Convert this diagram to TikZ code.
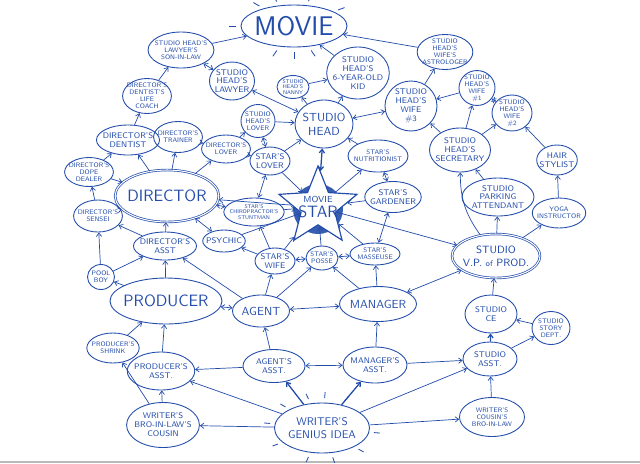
\documentclass[tikz,border=0pt]{standalone}
\usetikzlibrary{shapes.geometric,arrows.meta}
\definecolor{ink}{RGB}{34,76,170}
\tikzset{
  blob/.style={ellipse, draw=ink, line width=.75pt, text=ink, align=center,
    inner xsep=-2.5pt, inner ysep=-1pt, font=\sffamily\fontsize{5.6}{6}\selectfont},
  sz/.style 2 args={minimum width=#1*0.03cm, minimum height=#2*0.03cm},
  sml/.style={font=\sffamily\fontsize{7}{7.6}\selectfont},
  mid/.style={font=\sffamily\fontsize{10}{12}\selectfont},
  big/.style={font=\sffamily\fontsize{14}{15}\selectfont},
  twice/.style={double=white, double distance=.9pt, line width=.6pt},
  arr/.style={->, draw=ink, line width=.6pt},
  dbl/.style={<->, draw=ink, line width=.6pt},
  ray/.style={draw=ink, line width=.7pt}
}

\begin{document}
\begin{tikzpicture}[x=0.03cm, y=-0.03cm, >={Straight Barb[length=3pt,width=4.5pt]}]
\useasboundingbox (0,0) rectangle (640,463);
\fill[gray!55] (0,461) rectangle (640,463);

% top: the studio side
\node[blob, sz={106}{42}, font=\sffamily\fontsize{23}{25}\selectfont] (movie) at (294,26) {MOVIE};
\node[blob, sz={52}{36}] (sonInLaw) at (181,50) {STUDIO HEAD'S\\LAWYER'S\\SON-IN-LAW};
\node[blob, sml, sz={45}{38}] (shLawyer) at (232,81) {STUDIO\\HEAD'S\\LAWYER};
\node[blob, sz={32}{23}, font=\sffamily\fontsize{4.6}{5}\selectfont] (shNanny) at (293,87) {STUDIO\\HEAD'S\\NANNY};
\node[blob, sml, sz={60}{52}] (shKid) at (358,73) {STUDIO\\HEAD'S\\6-YEAR-OLD\\KID};
\node[blob, sz={55}{35}] (astrologer) at (445,52) {STUDIO\\HEAD'S\\WIFE'S\\ASTROLOGER};
\node[blob, mid, sz={58}{48}] (studioHead) at (324,124) {STUDIO\\HEAD};
\node[blob, sml, sz={52}{50}] (wifeThree) at (411,106) {STUDIO\\HEAD'S\\WIFE\\\#3};
\node[blob, sz={36}{32}] (wifeOne) at (477,88) {STUDIO\\HEAD'S\\WIFE\\\#1};
\node[blob, sz={40}{36}] (wifeTwo) at (512,113) {STUDIO\\HEAD'S\\WIFE\\\#2};
\node[blob, sml, sz={56}{44}] (secretary) at (460,150) {STUDIO\\HEAD'S\\SECRETARY};
\node[blob, sml, sz={40}{30}] (hair) at (557,160) {HAIR\\STYLIST};
\node[blob, sml, sz={72}{38}] (parking) at (498,197) {STUDIO\\PARKING\\ATTENDANT};
\node[blob, sz={42}{30}] (yoga) at (559,213) {YOGA\\INSTRUCTOR};
\node[blob, twice, sz={88}{44}, font=\sffamily\fontsize{9}{11}\selectfont] (vp) at (496,256) {STUDIO\\V.P. {\scriptsize of} PROD.};
\node[blob, sml, sz={52}{38}] (ce) at (491,314) {STUDIO\\CE};
\node[blob, sz={38}{33}] (storyDept) at (551,328) {STUDIO\\STORY\\DEPT.};
\node[blob, sml, sz={54}{34}] (studioAsst) at (490,359) {STUDIO\\ASST.};
\node[blob, sz={65}{39}] (wCousinBro) at (492,417) {WRITER'S\\COUSIN'S\\BRO-IN-LAW};

% middle: the star and his people
\fill[ink!90] (318,209) circle (25);
\node[star, star points=5, star point ratio=2.3, minimum size=82*0.03cm, inner sep=0pt,
  draw=ink, line width=1pt, fill=white,
  label={[text=ink, align=center, font=\sffamily\fontsize{14}{12}\selectfont]center:{\fontsize{7.5}{7}\selectfont MOVIE}\\STAR}] (movieStar) at (318,207) {};
\node[blob, sml, sz={40}{26}] (sWife) at (275,261) {STAR'S\\WIFE};
\node[blob, sz={32}{24}] (posse) at (322,258) {STAR'S\\POSSE};
\node[blob, sz={50}{22}] (masseuse) at (375,254) {STAR'S\\MASSEUSE};
\node[blob, sml, sz={42}{22}] (psychic) at (224,241) {PSYCHIC};
\node[blob, sz={52}{28}, font=\sffamily\fontsize{4.6}{5}\selectfont] (chiro) at (254,212) {STAR'S\\CHIROPRACTOR'S\\STUNTMAN};
\node[blob, sml, sz={40}{28}] (sLover) at (270,161) {STAR'S\\LOVER};
\node[blob, sz={34}{33}] (shLover) at (258,121) {STUDIO\\HEAD'S\\LOVER};
\node[blob, sz={42}{28}] (dLover) at (226,149) {DIRECTOR'S\\LOVER};
\node[blob, sz={50}{32}] (nutri) at (378,156) {STAR'S\\NUTRITIONIST};
\node[blob, sml, sz={52}{31}] (gardener) at (393,197) {STAR'S\\GARDENER};
\node[blob, mid, sz={77}{35}] (manager) at (378,304) {MANAGER};
\node[blob, mid, sz={57}{32}] (agent) at (261,311) {AGENT};
\node[blob, sml, sz={64}{36}] (mgrAsst) at (375,365) {MANAGER'S\\ASST.};
\node[blob, sml, sz={62}{33}] (agtAsst) at (274,366) {AGENT'S\\ASST.};
\node[blob, font=\sffamily\fontsize{9.5}{11}\selectfont, sz={95}{50}] (idea) at (322,428) {WRITER'S\\GENIUS IDEA};

% left: director and producer
\node[blob, big, twice, sz={80}{52}] (director) at (167,196) {DIRECTOR};
\node[blob, sz={40}{31}] (trainer) at (178,137) {DIRECTOR'S\\TRAINER};
\node[blob, sml, sz={48}{30}] (dentist) at (128,140) {DIRECTOR'S\\DENTIST};
\node[blob, sz={40}{35}] (lifeCoach) at (147,96) {DIRECTOR'S\\DENTIST'S\\LIFE\\COACH};
\node[blob, sz={42}{29}] (dope) at (89,172) {DIRECTOR'S\\DOPE\\DEALER};
\node[blob, sz={47}{32}] (sensei) at (98,216) {DIRECTOR'S\\SENSEI};
\node[blob, sml, sz={50}{28}] (dAsst) at (165,246) {DIRECTOR'S\\ASST};
\node[blob, sz={27}{25}] (poolBoy) at (101,277) {POOL\\BOY};
\node[blob, big, sz={82}{46}] (producer) at (166,301) {PRODUCER};
\node[blob, sz={43}{30}] (shrink) at (113,348) {PRODUCER'S\\SHRINK};
\node[blob, sml, sz={52}{38}] (pAsst) at (161,371) {PRODUCER'S\\ASST.};
\node[blob, sml, sz={67}{45}] (wBroCousin) at (163,425) {WRITER'S\\BRO-IN-LAW'S\\COUSIN};

% sun rays
\foreach \a in {20,60,100,125,150,180,235,270,305}
  \draw[ray] (movie.\a) ++(\a:4pt) -- ++(\a:6pt);
\foreach \a in {50,85,115,150,175,200,245,290,330,355}
  \draw[ray] (idea.\a) ++(\a:4pt) -- ++(\a:5pt);

% who tells whom
\foreach \a/\b in {sonInLaw/movie, shKid/movie, astrologer/movie, studioHead/shKid,
  shNanny/shKid, studioHead/shNanny, wifeThree/astrologer, wifeOne/wifeThree,
  secretary/wifeOne, secretary/wifeTwo, secretary/wifeThree, hair/wifeTwo, yoga/hair,
  parking/secretary, vp/parking, vp/yoga, ce/vp, storyDept/ce, studioAsst/storyDept,
  wCousinBro/studioAsst, idea/wCousinBro, idea/studioAsst, mgrAsst/studioAsst,
  movieStar/vp, nutri/studioHead, movieStar/nutri, gardener/movieStar, masseuse/movieStar,
  posse/movieStar, manager/posse, manager/masseuse, agent/posse, agent/sWife,
  agent/dAsst, sWife/psychic, sWife/movieStar, sWife/chiro, psychic/movieStar,
  chiro/movieStar, sLover/studioHead, sLover/movieStar, dLover/sLover, dLover/shLover,
  shLover/studioHead, trainer/dLover, director/dLover, director/trainer,
  director/dentist, dope/dentist, dope/director, sensei/dope, sensei/director,
  dAsst/sensei, poolBoy/sensei, poolBoy/dAsst, producer/poolBoy, producer/dAsst,
  dAsst/director, dentist/lifeCoach, lifeCoach/sonInLaw, shrink/producer,
  pAsst/producer, agtAsst/pAsst, agtAsst/agent, mgrAsst/manager, idea/pAsst,
  idea/wBroCousin, wBroCousin/pAsst, wBroCousin/shrink, movieStar/director}
  \draw[arr] (\a) -- (\b);
\foreach \a/\b in {shLawyer/sonInLaw, studioHead/shLawyer, wifeTwo/wifeOne,
  manager/vp, gardener/nutri, gardener/masseuse, sWife/posse, posse/masseuse,
  agent/manager, producer/agent, psychic/director, chiro/director, sLover/chiro,
  shLover/sLover, studioHead/wifeThree, agtAsst/mgrAsst}
  \draw[dbl] (\a) -- (\b);
\draw[dbl, line width=1.1pt] (movieStar) -- (studioHead);
\draw[arr, line width=1.1pt] (idea) -- (agtAsst);
\draw[arr, line width=1.1pt] (idea) -- (mgrAsst);
\draw[arr, line width=1pt] (studioAsst) -- (ce);
\draw[arr] (vp) to[bend left=18] (secretary);
\end{tikzpicture}
\end{document}
